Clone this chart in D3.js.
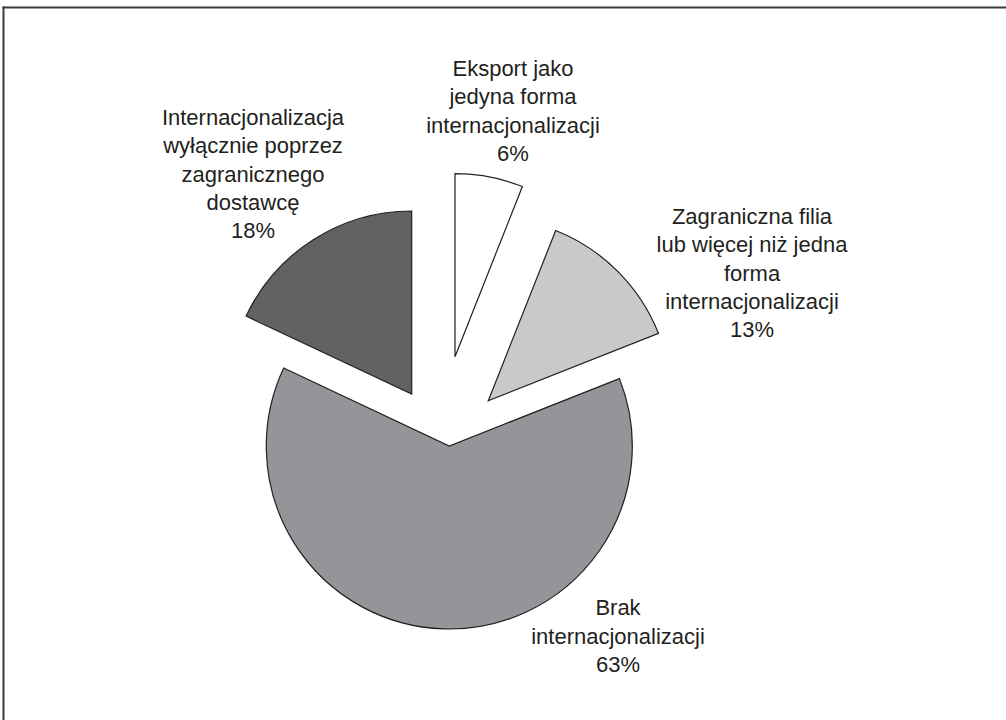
<!DOCTYPE html>
<html>
<head>
<meta charset="utf-8">
<script src="https://cdn.jsdelivr.net/npm/d3@7"></script>
<style>
  html, body { margin: 0; padding: 0; background: #fff; }
  svg { display: block; }
</style>
</head>
<body>
<svg id="chart" width="1006" height="720"></svg>
<script>
// ---- data ----
const categories = [
  ["Eksport jako", "jedyna forma", "internacjonalizacji"],
  ["Zagraniczna filia", "lub więcej niż jedna", "forma", "internacjonalizacji"],
  ["Brak", "internacjonalizacji"],
  ["Internacjonalizacja", "wyłącznie poprzez", "zagranicznego", "dostawcę"]
];
const values = [6, 13, 63, 18];
const valueLabels = ["6%", "13%", "63%", "18%"];

// ---- layout / style (not data) ----
const W = 1006, H = 720;
const center = { x: 449.3, y: 446 };
const radius = 183;
const sliceOffsets = [[5.7, -89.3], [39, -45.3], [0, 0], [-37.6, -52]];
const labelPos = [[513, 111], [752, 273], [618, 636], [253, 174]];
const fills = ["#ffffff", "#c8c9cb", "#939598", "#626264"];
const lineH = 28.4;

const svg = d3.select("#chart");

// frame lines (top and left)
svg.append("line").attr("x1", 2.5).attr("x2", W).attr("y1", 7.5).attr("y2", 7.5)
  .attr("stroke", "#3a3a3a").attr("stroke-width", 2);
svg.append("line").attr("x1", 3.5).attr("x2", 3.5).attr("y1", 6.5).attr("y2", H)
  .attr("stroke", "#3a3a3a").attr("stroke-width", 2);

const pie = d3.pie().sort(null).value(d => d).startAngle(0).endAngle(2 * Math.PI);
const arcs = pie(values);
const arc = d3.arc().innerRadius(0).outerRadius(radius);

const g = svg.append("g").attr("transform", `translate(${center.x},${center.y})`);
g.selectAll("path.slice")
  .data(arcs)
  .join("path")
  .attr("class", "slice")
  .attr("transform", (d, i) => `translate(${sliceOffsets[i][0]},${sliceOffsets[i][1]})`)
  .attr("d", arc)
  .attr("fill", (d, i) => fills[i])
  .attr("stroke", "#231f20")
  .attr("stroke-width", 1.2)
  .attr("stroke-linejoin", "miter");

// labels
const labels = svg.append("g")
  .attr("font-family", "'Liberation Sans', Arial, Helvetica, sans-serif")
  .attr("font-size", 22)
  .attr("fill", "#231f20")
  .attr("text-anchor", "middle");

categories.forEach((lines, i) => {
  const all = lines.concat([valueLabels[i]]);
  const n = all.length;
  const [cx, cy] = labelPos[i];
  const t = labels.append("text");
  all.forEach((s, k) => {
    t.append("tspan")
      .attr("x", cx)
      .attr("y", cy + (k - (n - 1) / 2) * lineH + 7.5)
      .text(s);
  });
});
</script>
</body>
</html>
